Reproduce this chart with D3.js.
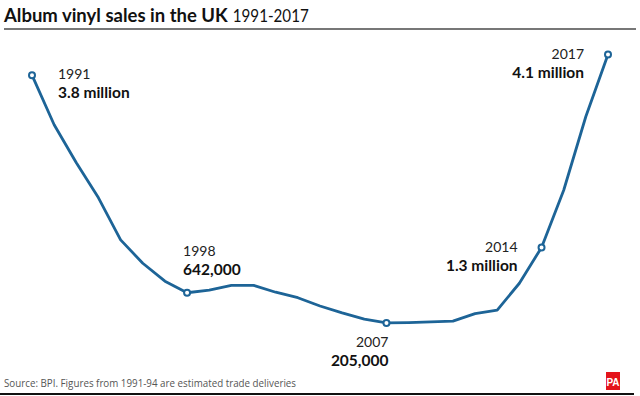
<!DOCTYPE html>
<html>
<head>
<meta charset="utf-8">
<script src="https://cdn.jsdelivr.net/npm/d3@7"></script>
<style>
  body { margin: 0; background: #fff; }
  svg { display: block; font-family: Lato, "Open Sans", sans-serif; }
</style>
</head>
<body>
<svg></svg>
<script>
// album vinyl sales, millions of units
var years = [1991, 1992, 1993, 1994, 1995, 1996, 1997, 1998, 1999, 2000,
             2001, 2002, 2003, 2004, 2005, 2006, 2007, 2008, 2009, 2010,
             2011, 2012, 2013, 2014, 2015, 2016, 2017]
var sales = [3.8, 3.08, 2.53, 2.02, 1.41, 1.07, 0.81, 0.642, 0.68, 0.75,
             0.75, 0.65, 0.57, 0.45, 0.35, 0.26, 0.205, 0.21, 0.22, 0.23,
             0.34, 0.39, 0.78, 1.3, 2.13, 3.2, 4.1]
var markedYears = [1991, 1998, 2007, 2014, 2017]
var markedLabels = ["3.8 million", "642,000", "205,000", "1.3 million", "4.1 million"]

var screen = {width: 640, height: 396}

var svg = d3.select("svg")
  .attr("width", screen.width)
  .attr("height", screen.height)

var xScale = d3.scaleLinear()
  .domain([1991, 2017])
  .range([32, 608])

var yScale = d3.scaleLinear()
  .domain([0, 4.1])
  .range([337, 54.5])

// title
var title = svg.append("text")
  .attr("x", 4)
  .attr("y", 22)
  .attr("font-size", 18.5)
  .attr("font-weight", "bold")
  .attr("fill", "#111")
  .text("Album vinyl sales in the UK")
var titleW = title.node().getComputedTextLength()
svg.append("text")
  .attr("x", 4 + titleW + 5)
  .attr("y", 22)
  .attr("font-size", 18)
  .attr("font-weight", 400)
  .attr("fill", "#111")
  .attr("textLength", 76)
  .attr("lengthAdjust", "spacingAndGlyphs")
  .text("1991-2017")

svg.append("rect")
  .attr("x", 4).attr("y", 28)
  .attr("width", 632).attr("height", 2)
  .attr("fill", "#777")

// line
var line = d3.line()
  .x(function(d, i) { return xScale(years[i]) })
  .y(function(d) { return yScale(d) })

svg.append("path")
  .datum(sales)
  .attr("d", line)
  .attr("fill", "none")
  .attr("stroke", "#1d6497")
  .attr("stroke-width", 2.8)
  .attr("stroke-linejoin", "round")

svg.selectAll(".mark")
  .data(markedYears)
  .enter()
  .append("circle")
  .attr("cx", function(d) { return xScale(d) })
  .attr("cy", function(d) { return yScale(sales[years.indexOf(d)]) })
  .attr("r", 3)
  .attr("fill", "#fff")
  .attr("stroke", "#1d6497")
  .attr("stroke-width", 2)

// annotation placement: dx, dy from the point, anchor
var labelPos = [
  {dx: 26, dy: 4, anchor: "start"},
  {dx: -4, dy: -37, anchor: "start"},
  {dx: 2, dy: 24, anchor: "end"},
  {dx: -24, dy: 5, anchor: "end"},
  {dx: -24, dy: 4, anchor: "end"}
]

var labels = svg.append("g")
markedYears.forEach(function(yr, i) {
  var px = xScale(yr)
  var py = yScale(sales[years.indexOf(yr)])
  var p = labelPos[i]
  var g = labels.append("text")
    .attr("text-anchor", p.anchor)
    .attr("fill", "#111")
  g.append("tspan")
    .attr("x", px + p.dx)
    .attr("y", py + p.dy)
    .attr("font-size", 14)
    .attr("fill", "#222")
    .text(yr)
  g.append("tspan")
    .attr("x", px + p.dx)
    .attr("y", py + p.dy + 19)
    .attr("font-size", 15.5)
    .attr("font-weight", "bold")
    .text(markedLabels[i])
})

// footer
svg.append("text")
  .attr("x", 4)
  .attr("y", 387)
  .attr("font-size", 11.5)
  .attr("font-family", "'Liberation Sans Narrow', 'Open Sans', sans-serif")
  .attr("fill", "#555")
  .attr("textLength", 292)
  .attr("lengthAdjust", "spacingAndGlyphs")
  .text("Source: BPI. Figures from 1991-94 are estimated trade deliveries")

svg.append("rect")
  .attr("x", 606).attr("y", 372)
  .attr("width", 14).attr("height", 18)
  .attr("fill", "#e4141b")
svg.append("text")
  .attr("x", 613).attr("y", 386)
  .attr("text-anchor", "middle")
  .attr("font-size", 10)
  .attr("font-weight", "bold")
  .attr("font-family", "'Liberation Sans Narrow', sans-serif")
  .attr("fill", "#fff")
  .text("PA")

svg.append("rect")
  .attr("x", 0).attr("y", 393)
  .attr("width", 634).attr("height", 2)
  .attr("fill", "#111")
</script>
</body>
</html>
